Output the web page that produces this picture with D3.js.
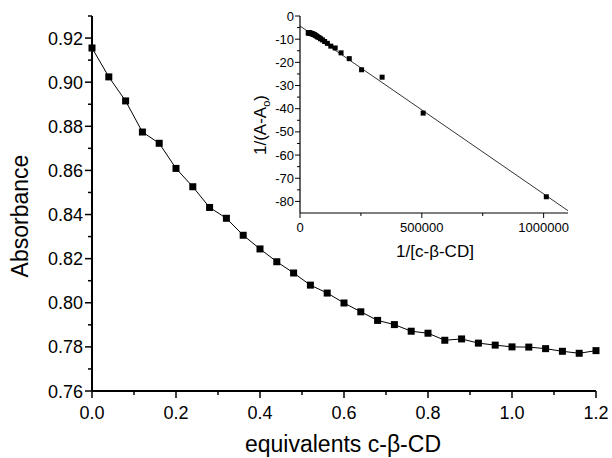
<!DOCTYPE html>
<html><head><meta charset="utf-8">
<script src="https://cdn.jsdelivr.net/npm/d3@7"></script>
<style>html,body{margin:0;padding:0;background:#fff}svg{display:block;font-family:"Liberation Sans",Arial,Helvetica,sans-serif}</style>
</head><body>
<svg id="c" width="612" height="458"></svg>
<script>
// Main chart data
const equivalents = [0.00,0.04,0.08,0.12,0.16,0.20,0.24,0.28,0.32,0.36,0.40,0.44,0.48,0.52,0.56,0.60,0.64,0.68,0.72,0.76,0.80,0.84,0.88,0.92,0.96,1.00,1.04,1.08,1.12,1.16,1.20];
const absorbance = [0.9155,0.9024,0.8915,0.8774,0.8723,0.8609,0.8526,0.8432,0.8383,0.8306,0.8244,0.8186,0.8135,0.8080,0.8044,0.7999,0.7959,0.7920,0.7901,0.7871,0.7862,0.7830,0.7836,0.7817,0.7808,0.7800,0.7799,0.7792,0.7780,0.7771,0.7783];
const mainXTicks = [0.0,0.2,0.4,0.6,0.8,1.0,1.2];
const mainYTicks = [0.76,0.78,0.80,0.82,0.84,0.86,0.88,0.90,0.92];

// Inset (double reciprocal) data
const invConc = [1011000,505500,337000,252750,202200,168500,144400,126400,112300,101100,91900,84250,77770,72200,67400,63200,59500,56200,53200,50550,48140,45950,43960,42130,40440,38880,37440,36110,34860,33700];
const invDeltaA = [-78.0,-41.9,-26.4,-23.2,-18.4,-15.9,-13.8,-13.0,-11.8,-11.0,-10.3,-9.8,-9.3,-9.0,-8.65,-8.36,-8.1,-7.97,-7.79,-7.73,-7.55,-7.58,-7.47,-7.42,-7.38,-7.37,-7.34,-7.27,-7.23,-7.29];
const fitX = [0, 1100000];
const fitY = [-4.3, -84.0];
const insetXTicks = [0, 500000, 1000000];
const insetYTicks = [0,-10,-20,-30,-40,-50,-60,-70,-80];

const svg = d3.select("#c");

// ---------- main chart ----------
const x = d3.scaleLinear().domain([0,1.2]).range([92,596]);
const y = d3.scaleLinear().domain([0.76,0.93]).range([391,16]);
const g = svg.append("g");

const xMinor = d3.range(0.1,1.2,0.2);
const yMinor = d3.range(0.77,0.93,0.02);
g.selectAll(".xmin").data(xMinor).join("line")
  .attr("x1",d=>x(d)).attr("x2",d=>x(d)).attr("y1",391).attr("y2",395)
  .attr("stroke","#000").attr("stroke-width",1.5);
g.selectAll(".ymin").data(yMinor).join("line")
  .attr("y1",d=>y(d)).attr("y2",d=>y(d)).attr("x1",92).attr("x2",88)
  .attr("stroke","#000").attr("stroke-width",1.5);
g.selectAll(".xmaj").data(mainXTicks).join("line")
  .attr("x1",d=>x(d)).attr("x2",d=>x(d)).attr("y1",391).attr("y2",398)
  .attr("stroke","#000").attr("stroke-width",1.5);
g.selectAll(".ymaj").data(mainYTicks).join("line")
  .attr("y1",d=>y(d)).attr("y2",d=>y(d)).attr("x1",92).attr("x2",85)
  .attr("stroke","#000").attr("stroke-width",1.5);
g.append("line").attr("x1",92).attr("x2",596).attr("y1",391).attr("y2",391).attr("stroke","#000").attr("stroke-width",2);
g.append("line").attr("x1",92).attr("x2",92).attr("y1",16).attr("y2",391).attr("stroke","#000").attr("stroke-width",2);
g.selectAll(".xl").data(mainXTicks).join("text")
  .attr("x",d=>x(d)).attr("y",419).attr("text-anchor","middle")
  .attr("font-size",18).text(d=>d3.format(".1f")(d));
g.selectAll(".yl").data(mainYTicks).join("text")
  .attr("x",83).attr("y",d=>y(d)+6.5).attr("text-anchor","end")
  .attr("font-size",18).text(d=>d3.format(".2f")(d));
g.append("text").attr("x",343).attr("y",452).attr("text-anchor","middle").attr("font-size",23).text("equivalents c-β-CD");
g.append("text").attr("transform","translate(28,216) rotate(-90)").attr("text-anchor","middle").attr("font-size",23).text("Absorbance");

const pts = equivalents.map((e,i)=>[e,absorbance[i]]);
g.append("path").datum(pts)
  .attr("d",d3.line().x(d=>x(d[0])).y(d=>y(d[1])))
  .attr("fill","none").attr("stroke","#000").attr("stroke-width",1);
g.selectAll(".m").data(pts).join("rect")
  .attr("x",d=>x(d[0])-3.5).attr("y",d=>y(d[1])-3.5).attr("width",7).attr("height",7).attr("fill","#000");

// ---------- inset ----------
const ix = d3.scaleLinear().domain([0,1100000]).range([300,568]);
const iy = d3.scaleLinear().domain([-85,0]).range([213,16]);
const ins = svg.append("g");
const ixMinor = [250000,750000];
const iyMinor = d3.range(-5,-85,-10);
ins.selectAll(".a").data(ixMinor).join("line")
  .attr("x1",d=>ix(d)).attr("x2",d=>ix(d)).attr("y1",213).attr("y2",216)
  .attr("stroke","#000").attr("stroke-width",1);
ins.selectAll(".b").data(insetXTicks).join("line")
  .attr("x1",d=>ix(d)).attr("x2",d=>ix(d)).attr("y1",213).attr("y2",218)
  .attr("stroke","#000").attr("stroke-width",1);
ins.selectAll(".c").data(iyMinor).join("line")
  .attr("y1",d=>iy(d)).attr("y2",d=>iy(d)).attr("x1",300).attr("x2",297)
  .attr("stroke","#000").attr("stroke-width",1);
ins.selectAll(".d").data(insetYTicks).join("line")
  .attr("y1",d=>iy(d)).attr("y2",d=>iy(d)).attr("x1",300).attr("x2",295)
  .attr("stroke","#000").attr("stroke-width",1);
ins.append("line").attr("x1",300).attr("x2",568).attr("y1",213).attr("y2",213).attr("stroke","#000").attr("stroke-width",1.2);
ins.append("line").attr("x1",300).attr("x2",300).attr("y1",16).attr("y2",213).attr("stroke","#000").attr("stroke-width",1.2);
ins.selectAll(".xl").data(insetXTicks).join("text")
  .attr("x",d=>ix(d)).attr("y",232).attr("text-anchor","middle")
  .attr("font-size",13).text(d=>d);
ins.selectAll(".yl").data(insetYTicks).join("text")
  .attr("x",294).attr("y",d=>iy(d)+4.5).attr("text-anchor","end")
  .attr("font-size",13).text(d=>d);
ins.append("text").attr("x",435).attr("y",257).attr("text-anchor","middle").attr("font-size",17).text("1/[c-β-CD]");
const yt = ins.append("text").attr("transform","translate(266,125) rotate(-90)").attr("text-anchor","middle").attr("font-size",17);
yt.append("tspan").text("1/(A-A");
yt.append("tspan").attr("font-size",11).attr("dy",4).text("o");
yt.append("tspan").attr("dy",-4).text(")");

ins.append("path").datum(fitX.map((v,i)=>[v,fitY[i]]))
  .attr("d",d3.line().x(d=>ix(d[0])).y(d=>iy(d[1])))
  .attr("fill","none").attr("stroke","#000").attr("stroke-width",0.8);
ins.selectAll(".p").data(invConc.map((v,i)=>[v,invDeltaA[i]])).join("rect")
  .attr("x",d=>ix(d[0])-2.5).attr("y",d=>iy(d[1])-2.5).attr("width",5).attr("height",5).attr("fill","#000");
</script>
</body></html>
